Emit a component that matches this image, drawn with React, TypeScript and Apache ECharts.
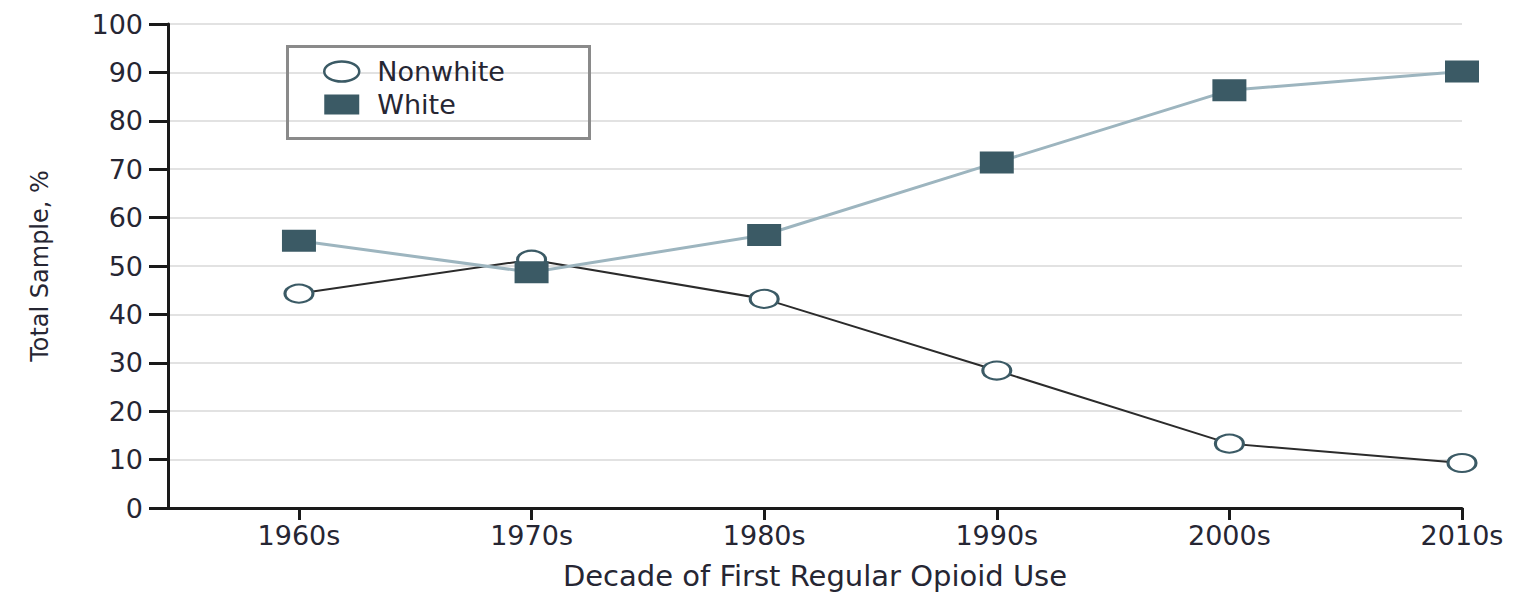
import React, { useEffect, useRef } from "react";
import * as echarts from "echarts";

const decades = [1960, 1970, 1980, 1990, 2000, 2010];
const decadeLabels = ["1960s", "1970s", "1980s", "1990s", "2000s", "2010s"];
const nonwhiteValues = [44.3, 51.3, 43.2, 28.4, 13.3, 9.3];
const whiteValues = [55.2, 48.7, 56.4, 71.4, 86.3, 90.2];
const seriesNames = ["Nonwhite", "White"];

const FONT = "'DejaVu Sans', Verdana, sans-serif";
const TEXT = "#262633";
const SLATE = "#3b5a65";
const ELLIPSE_ICON = "path://M50,0A50,50,0,1,1,50,100A50,50,0,1,1,50,0Z";

export default function App() {
  const ref = useRef<HTMLDivElement>(null);
  useEffect(() => {
    if (!ref.current) return;
    const chart = echarts.init(ref.current, null, { renderer: "svg" });
    chart.setOption({
      animation: false,
      backgroundColor: "#ffffff",
      grid: {
        left: 168,
        right: 68,
        top: 24,
        bottom: 88,
        containLabel: false,
        outerBoundsMode: "none",
      },
      xAxis: {
        type: "value",
        min: 1954.37,
        max: 2010,
        name: "Decade of First Regular Opioid Use",
        nameLocation: "middle",
        nameGap: 52,
        nameTextStyle: { fontFamily: FONT, fontSize: 29, color: TEXT, lineHeight: 32 },
        axisLine: { show: true, lineStyle: { color: "#1a1a1a", width: 3 } },
        axisTick: {
          show: true,
          length: 12,
          lineStyle: { color: "#1a1a1a", width: 3 },
          customValues: decades,
        },
        axisLabel: {
          customValues: decades,
          margin: 14,
          fontFamily: FONT,
          fontSize: 27,
          color: TEXT,
          formatter: (v: number) => decadeLabels[decades.indexOf(Math.round(v))] ?? "",
        },
        splitLine: { show: false },
      },
      yAxis: {
        type: "value",
        min: 0,
        max: 100,
        interval: 10,
        name: "Total Sample, %",
        nameLocation: "middle",
        nameRotate: 90,
        nameGap: 116,
        nameTextStyle: { fontFamily: FONT, fontSize: 24, color: TEXT },
        axisLine: { show: true, lineStyle: { color: "#1a1a1a", width: 3 } },
        axisTick: { show: true, length: 19, lineStyle: { color: "#1a1a1a", width: 3 } },
        axisLabel: { margin: 25, fontFamily: FONT, fontSize: 27, color: TEXT },
        splitLine: { show: true, lineStyle: { color: "#e2e2e2", width: 2 } },
      },
      legend: {
        left: 323,
        top: 58,
        padding: 0,
        orient: "vertical",
        itemWidth: 35,
        itemHeight: 20,
        itemGap: 6,
        symbolKeepAspect: false,
        textStyle: {
          fontFamily: FONT,
          fontSize: 27,
          color: TEXT,
          padding: [0, 0, 0, 13],
        },
        data: [
          {
            name: seriesNames[0],
            icon: ELLIPSE_ICON,
            itemStyle: { color: "#ffffff", borderColor: SLATE, borderWidth: 2.5 },
          },
          { name: seriesNames[1], icon: "rect", itemStyle: { color: SLATE } },
        ],
      },
      graphic: [
        {
          type: "rect",
          left: 285,
          top: 44,
          shape: { width: 302, height: 92 },
          style: { fill: "none", stroke: "#8a8a8a", lineWidth: 3 },
          z: 1,
        },
      ],
      series: [
        {
          name: seriesNames[0],
          type: "line",
          data: decades.map((d, i) => [d, nonwhiteValues[i]]),
          symbol: "circle",
          symbolSize: [28, 18],
          itemStyle: { color: "#ffffff", borderColor: SLATE, borderWidth: 2.5 },
          lineStyle: { color: "#2b2b2b", width: 2 },
          z: 2,
        },
        {
          name: seriesNames[1],
          type: "line",
          data: decades.map((d, i) => [d, whiteValues[i]]),
          symbol: "rect",
          symbolSize: [34, 22],
          itemStyle: { color: SLATE },
          lineStyle: { color: "#9db5bf", width: 3 },
          z: 3,
        },
      ],
    });
    return () => chart.dispose();
  }, []);
  return (
    <div
      ref={ref}
      style={{ position: "absolute", left: 0, top: 0, width: 1530, height: 596 }}
    />
  );
}
